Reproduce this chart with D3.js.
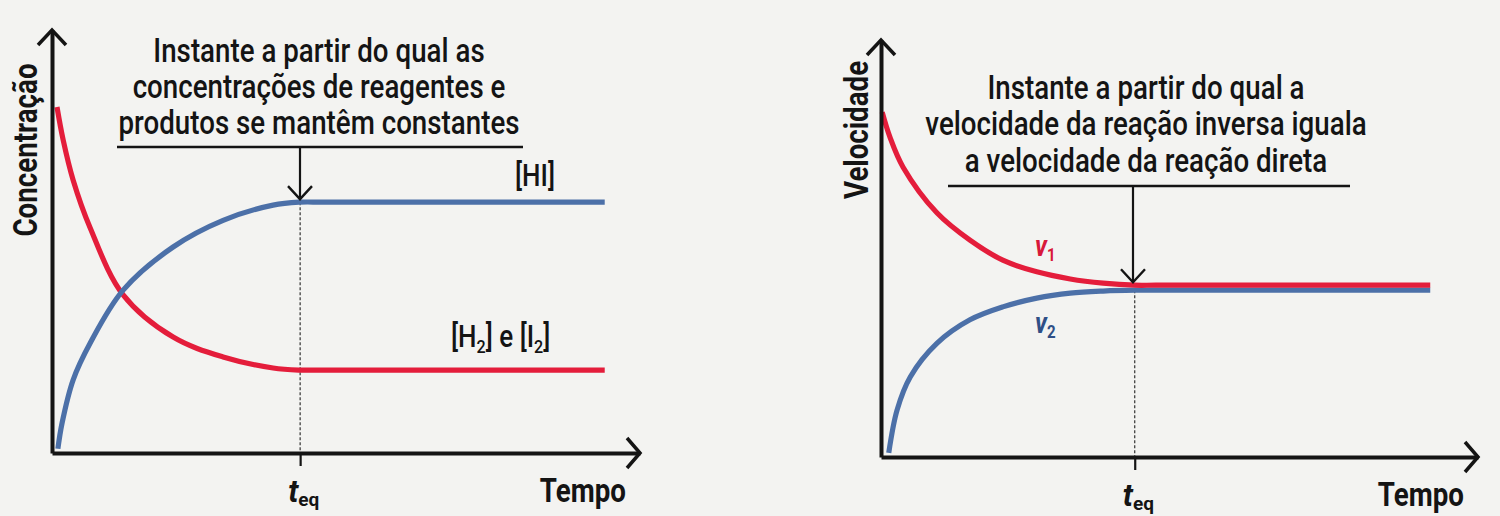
<!DOCTYPE html>
<html><head><meta charset="utf-8">
<script src="https://cdn.jsdelivr.net/npm/d3@7"></script>
<style>html,body{margin:0;padding:0;background:#f3f3f1;} svg{display:block}</style>
</head><body><svg id="c" width="1500" height="516"></svg>
<script>
// ---- data ----
const timeHI   = [0.1, 0.17, 0.36, 0.65, 1.21, 2.06, 2.91, 3.76, 4.22, 4.6, 6.5, 9.4];
const concHI   = [0.1, 0.7, 1.73, 2.6, 3.85, 4.87, 5.5, 5.86, 5.93, 5.93, 5.93, 5.93];
const timeH2I2 = [0.085, 0.19, 0.36, 0.65, 1.21, 2.06, 2.91, 3.76, 4.22, 4.6, 6.5, 9.4];
const concH2I2 = [8.18, 7.4, 6.45, 5.32, 3.74, 2.74, 2.27, 2.01, 1.96, 1.96, 1.96, 1.96];
const timeV1 = [0.02, 0.15, 0.37, 0.94, 1.49, 2.04, 2.61, 3.17, 3.72, 4.25, 4.6, 6.5, 9.2];
const valV1  = [8.27, 7.67, 6.95, 5.85, 5.2, 4.72, 4.44, 4.27, 4.17, 4.12, 4.12, 4.12, 4.12];
const timeV2 = [0.13, 0.27, 0.49, 0.94, 1.49, 2.04, 2.61, 3.17, 3.72, 4.25, 4.6, 6.5, 9.2];
const valV2  = [0.1, 1.13, 1.92, 2.73, 3.29, 3.6, 3.81, 3.93, 3.98, 4.0, 4.0, 4.0, 4.0];
const tEqLeft = 4.22, tEqRight = 4.25;
const annotLeft  = ["Instante a partir do qual as", "concentrações de reagentes e", "produtos se mantêm constantes"];
const annotRight = ["Instante a partir do qual a", "velocidade da reação inversa iguala", "a velocidade da reação direta"];
const xLabel = "Tempo", yLabelLeft = "Concentração", yLabelRight = "Velocidade";

// ---- styles ----
const RED = "#e41d3b", BLUE = "#4c70a8", INK = "#141414";
const FONT = "Roboto, 'Liberation Sans', sans-serif";
const SX = 0.84; // condensed look

const svg = d3.select("#c");
svg.append("rect").attr("width", 1500).attr("height", 516).attr("fill", "#f3f3f1");

function condText(x, y, str, size, weight, anchor, rotate) {
  return svg.append("text")
    .attr("transform", `translate(${x},${y})` + (rotate ? ` rotate(${rotate})` : "") + ` scale(${SX},1)`)
    .attr("text-anchor", anchor || "middle")
    .attr("font-family", FONT).attr("font-size", size).attr("font-weight", weight || 500)
    .attr("fill", INK).text(str);
}
function arrowHead(x, y, dir, w, l, sw) {
  let d;
  if (dir === "up") d = `M${x - w},${y + l}L${x},${y}L${x + w},${y + l}`;
  else if (dir === "right") d = `M${x - l},${y - w}L${x},${y}L${x - l},${y + w}`;
  else d = `M${x - w},${y - l}L${x},${y}L${x + w},${y - l}`;
  svg.append("path").attr("d", d).attr("fill", "none").attr("stroke", INK)
    .attr("stroke-width", sw).attr("stroke-linejoin", "miter").attr("stroke-linecap", "butt");
}

function panel(cfg) {
  const x = d3.scaleLinear([0, 10], cfg.xr);
  const y = d3.scaleLinear([0, 10], cfg.yr);
  const line = d3.line().x(d => x(d[0])).y(d => y(d[1])).curve(d3.curveCatmullRom.alpha(0.5));

  // dashed equilibrium line
  svg.append("line").attr("x1", x(cfg.teq)).attr("x2", x(cfg.teq))
    .attr("y1", y(cfg.dashTop)).attr("y2", y(0))
    .attr("stroke", "#333").attr("stroke-width", 1.2).attr("stroke-dasharray", "3,2");

  // series
  cfg.series.forEach(s => {
    svg.append("path").datum(d3.zip(s.t, s.v)).attr("d", line)
      .attr("fill", "none").attr("stroke", s.color).attr("stroke-width", 5.2)
      .attr("stroke-linecap", "butt");
  });

  // axes
  const gx = svg.append("g").attr("transform", `translate(0,${y(0)})`)
    .call(d3.axisBottom(x).tickValues([cfg.teq]).tickSize(13).tickSizeOuter(0).tickFormat(""));
  gx.select(".domain").attr("stroke", INK).attr("stroke-width", 4);
  gx.selectAll(".tick line").attr("stroke", INK).attr("stroke-width", 2.2);
  const gy = svg.append("g").attr("transform", `translate(${x(0)},0)`)
    .call(d3.axisLeft(y).tickValues([]).tickSizeOuter(0));
  gy.select(".domain").attr("stroke", INK).attr("stroke-width", 4);
  arrowHead(x(0), y(10), "up", 14, 15, 3.5);
  arrowHead(x(10), y(0), "right", 15, 13, 3.5);

  // t_eq label
  const tl = svg.append("text").attr("x", x(cfg.teq) - 12).attr("y", y(0) + 49)
    .attr("font-family", FONT).attr("fill", INK).attr("font-weight", 700);
  tl.append("tspan").attr("font-size", 31).attr("font-style", "italic").text("t");
  tl.append("tspan").attr("font-size", 19).attr("dy", 4).text("eq");

  // axis titles
  condText(x(10) - 14, y(0) + 49, xLabel, 33, 700, "end");
  condText(cfg.yTitle[0], cfg.yTitle[1], cfg.yTitleText, 33, 700, "middle", -90);

  // annotation
  cfg.annot.forEach((s, i) => condText(cfg.annX, cfg.annY[i], s, 33, 500, "middle"));
  svg.append("line").attr("x1", cfg.ul[0]).attr("x2", cfg.ul[1]).attr("y1", cfg.ul[2]).attr("y2", cfg.ul[2])
    .attr("stroke", INK).attr("stroke-width", 2.5);
  const ax = cfg.arrowX, tipY = y(cfg.arrowTo) - 3;
  svg.append("line").attr("x1", ax).attr("x2", ax).attr("y1", cfg.ul[2]).attr("y2", tipY)
    .attr("stroke", INK).attr("stroke-width", 2.2);
  arrowHead(ax, tipY, "down", 12, 13, 2.4);
  return {x, y};
}

panel({
  xr: [52, 640], yr: [453, 30], teq: tEqLeft, dashTop: concHI[concHI.length - 1],
  series: [{t: timeH2I2, v: concH2I2, color: RED}, {t: timeHI, v: concHI, color: BLUE}],
  yTitle: [37, 150], yTitleText: yLabelLeft,
  annot: annotLeft, annX: 319, annY: [62, 98, 134], ul: [117, 523, 147],
  arrowX: 300, arrowTo: concHI[concHI.length - 1]
});
panel({
  xr: [881, 1478], yr: [457, 40], teq: tEqRight, dashTop: valV2[valV2.length - 1],
  series: [{t: timeV2, v: valV2, color: BLUE}, {t: timeV1, v: valV1, color: RED}],
  yTitle: [868, 130], yTitleText: yLabelRight,
  annot: annotRight, annX: 1146, annY: [99, 135, 172], ul: [948, 1350, 186],
  arrowX: 1133, arrowTo: valV1[valV1.length - 1]
});

// series labels
function subLabel(x, y, parts, color, size, italic) {
  const t = svg.append("text").attr("transform", `translate(${x},${y}) scale(${SX},1)`)
    .attr("font-family", FONT).attr("fill", color).attr("font-weight", italic ? 700 : 500);
  parts.forEach(p => {
    const ts = t.append("tspan").text(p.s).attr("font-size", p.sub ? size * 0.62 : size);
    if (p.dy) ts.attr("dy", p.dy);
    if (italic && !p.sub) ts.attr("font-style", "italic");
  });
}
subLabel(515, 186, [{s: "[HI]"}], INK, 31);
subLabel(451, 347, [{s: "[H"}, {s: "2", sub: true, dy: 6}, {s: "] e [I", dy: -6}, {s: "2", sub: true, dy: 6}, {s: "]", dy: -6}], INK, 31);
subLabel(1035, 256, [{s: "v"}, {s: "1", sub: true, dy: 5}], "#d8183a", 29, true);
subLabel(1035, 333, [{s: "v"}, {s: "2", sub: true, dy: 5}], "#2f4f86", 29, true);
</script></body></html>
